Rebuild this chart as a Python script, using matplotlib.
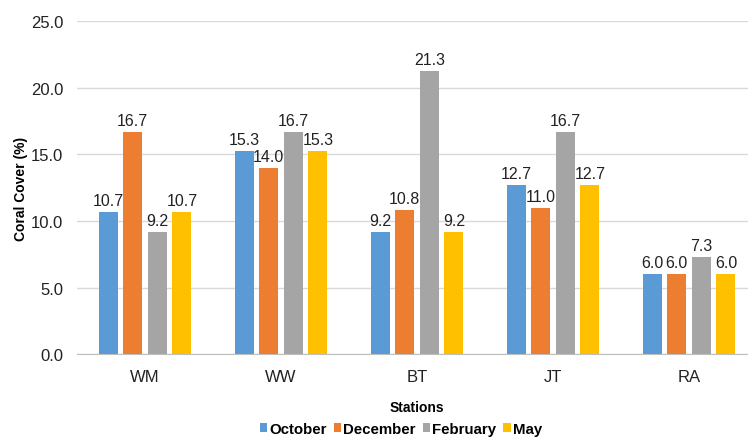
import matplotlib.pyplot as plt
import numpy as np

plt.rcParams['font.family'] = ['Liberation Sans', 'DejaVu Sans']

stations = ['WM', 'WW', 'BT', 'JT', 'RA']
months = ['October', 'December', 'February', 'May']
october = [10.7, 15.3, 9.2, 12.7, 6.0]
december = [16.7, 14.0, 10.8, 11.0, 6.0]
february = [9.2, 16.7, 21.3, 16.7, 7.3]
may = [10.7, 15.3, 9.2, 12.7, 6.0]
colors = ['#5B9BD5', '#ED7D31', '#A5A5A5', '#FFC000']

fig = plt.figure(figsize=(7.48, 4.39), dpi=100)
# plot area runs a little past the right edge of the canvas
ax = fig.add_axes([0.103, 0.191, 0.909, 0.758])

x = np.arange(len(stations))
width = 0.14
step = 0.181
for i, (vals, name) in enumerate(zip([october, december, february, may], months)):
    pos = x + (i - 1.5) * step
    bars = ax.bar(pos, vals, width, color=colors[i], label=name, zorder=3)
    for b, v in zip(bars, vals):
        ax.text(b.get_x() + b.get_width() / 2, v + 0.3, f'{v:.1f}',
                ha='center', va='bottom', fontsize=11.5, color='#222222')

ax.set_xlim(-0.5, 4.5)
ax.set_ylim(0, 25)
ax.set_yticks(np.arange(0, 26, 5))
ax.set_yticklabels([f'{t:.1f}' for t in np.arange(0, 26, 5)])
ax.set_xticks(x)
ax.set_xticklabels(stations)
ax.tick_params(axis='both', length=0, labelsize=12, colors='#222222')
ax.tick_params(axis='x', pad=11)
ax.tick_params(axis='y', pad=10)
ax.grid(axis='y', color='#D9D9D9', linewidth=1, zorder=0)
for s in ['top', 'right', 'left']:
    ax.spines[s].set_visible(False)
ax.spines['bottom'].set_color('#BFBFBF')

ax.set_ylabel('Coral Cover (%)', fontsize=10, fontweight='bold', labelpad=2)
ax.set_xlabel('Stations', fontsize=10, fontweight='bold', labelpad=11)

fig.legend(loc='center', bbox_to_anchor=(0.536, 0.021), ncol=4, frameon=False,
           prop={'weight': 'bold', 'size': 10.8}, handlelength=0.5, handleheight=0.5,
           handletextpad=0.15, columnspacing=0.45, borderpad=0.1)

fig.savefig('out.png', dpi=100)
